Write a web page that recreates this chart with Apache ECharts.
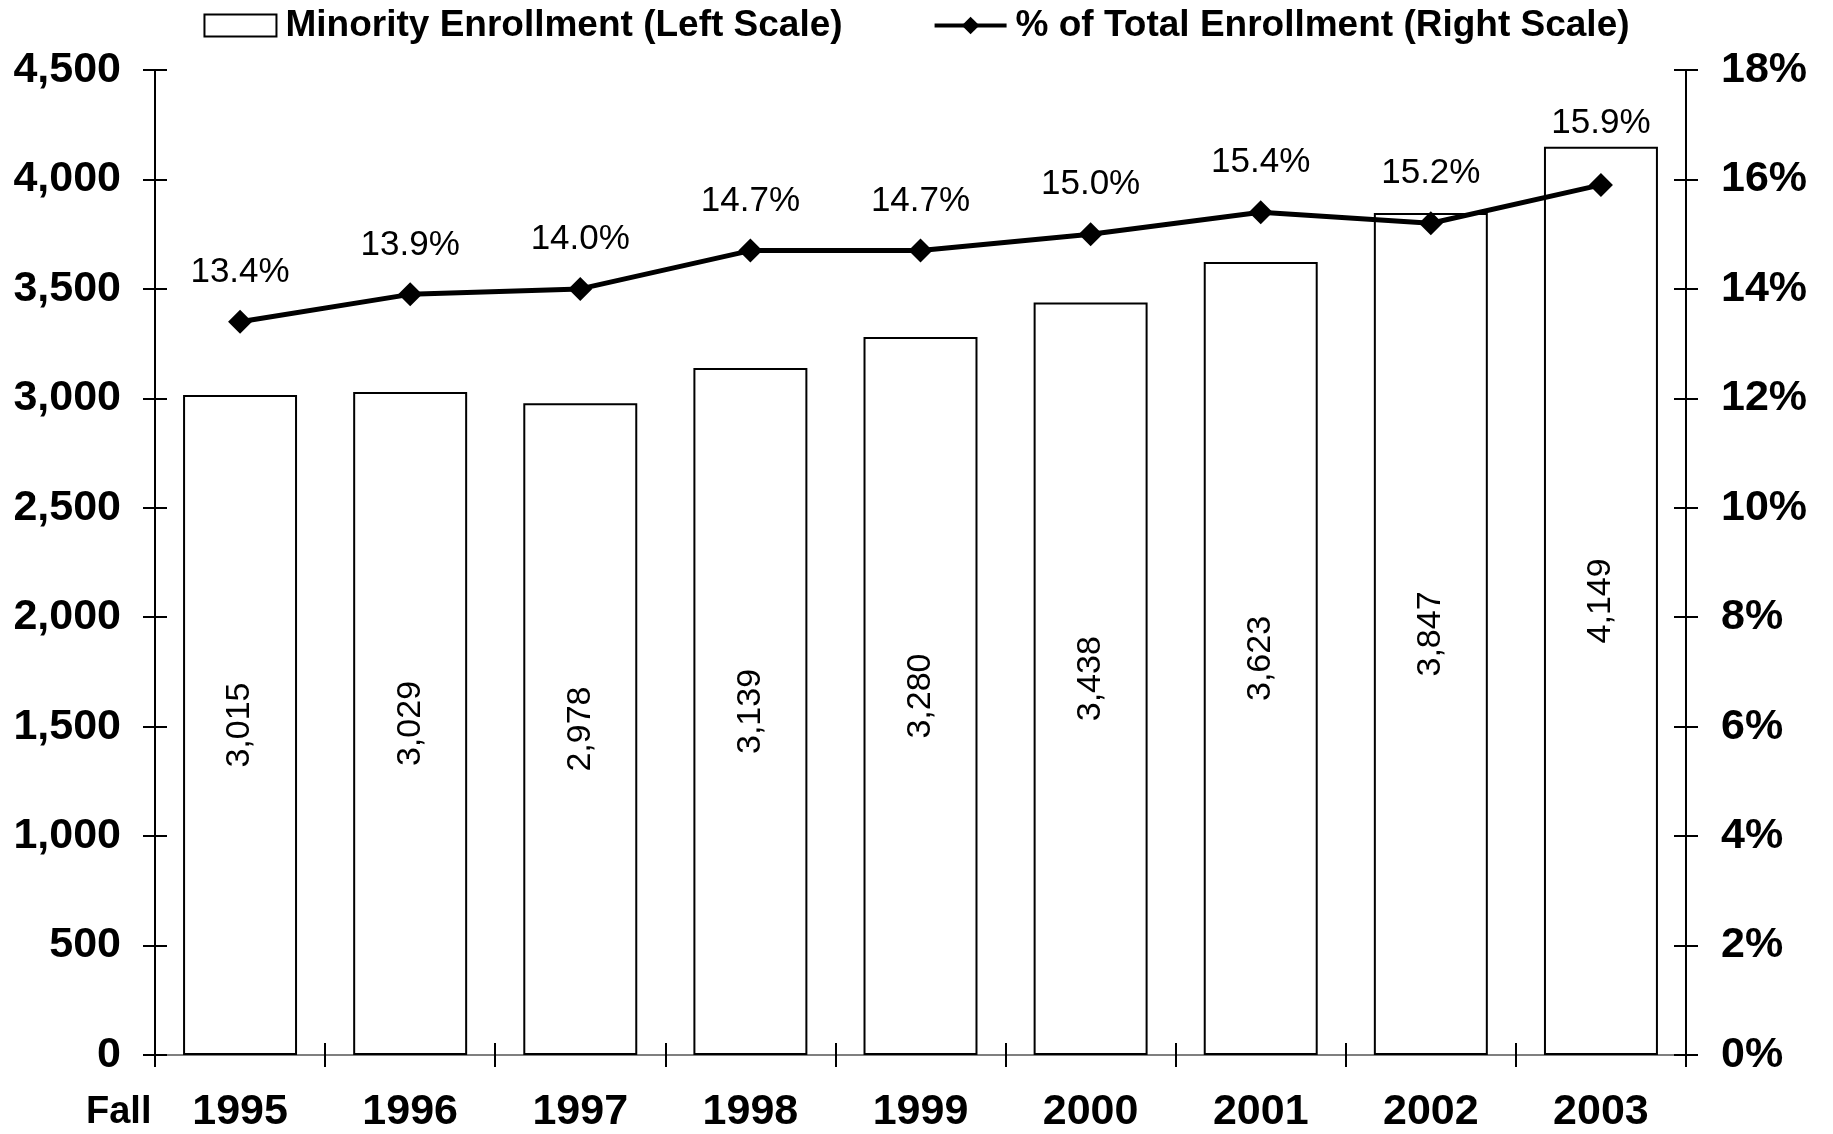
<!DOCTYPE html>
<html>
<head>
<meta charset="utf-8">
<script src="https://cdn.jsdelivr.net/npm/echarts@6/dist/echarts.min.js"></script>
<style>
  html, body { margin: 0; padding: 0; background: #fff; }
  #chart { width: 1833px; height: 1134px; }
</style>
</head>
<body>
<div id="chart"></div>
<script>
// data
var years = ['1995', '1996', '1997', '1998', '1999', '2000', '2001', '2002', '2003'];
var minorityEnrollment = [3015, 3029, 2978, 3139, 3280, 3438, 3623, 3847, 4149];
var pctOfTotal = [13.4, 13.9, 14.0, 14.7, 14.7, 15.0, 15.4, 15.2, 15.9];

var FONT = '"Liberation Sans", Arial, sans-serif';
var comma = function (v) { return Number(v).toLocaleString('en-US'); };

var chart = echarts.init(document.getElementById('chart'));

// shared axis bits
var leftScale = { min: 0, max: 4500, interval: 500 };
var rightScale = { min: 0, max: 18, interval: 2 };
var blackLine = { show: true, lineStyle: { color: '#000', width: 2 } };
var tickOut = { show: true, inside: false, length: 12, lineStyle: { color: '#000', width: 2 } };
var tickIn = { show: true, inside: true, length: 12, lineStyle: { color: '#000', width: 2 } };
var axisFont = { color: '#000', fontFamily: FONT, fontWeight: 'bold', fontSize: 43 };

// last label sits a bit higher so it clears the tall 2003 bar
var pctPoints = pctOfTotal.map(function (v, i) {
  return i === pctOfTotal.length - 1 ? { value: v, label: { distance: 32 } } : v;
});

chart.setOption({
  backgroundColor: '#fff',
  animation: false,
  grid: { left: 155, right: 147, top: 70, bottom: 77 },
  legend: {
    top: 2,
    left: 'center',
    itemWidth: 72,
    itemHeight: 22,
    itemGap: 90,
    textStyle: { color: '#000', fontFamily: FONT, fontWeight: 'bold', fontSize: 37, padding: [0, 0, 0, 4] },
    data: [
      { name: 'Minority Enrollment (Left Scale)', icon: 'rect' },
      { name: '% of Total Enrollment (Right Scale)', lineStyle: { width: 4, color: '#000' } }
    ]
  },
  xAxis: [
    {
      type: 'category', data: years, position: 'bottom',
      axisLine: blackLine, axisTick: tickOut,
      axisLabel: Object.assign({ margin: 36 }, axisFont)
    },
    {
      // second copy only for the inner half of the ticks
      type: 'category', data: years, position: 'bottom',
      axisLine: { show: false }, axisTick: tickIn, axisLabel: { show: false }
    },
    {
      // grey top border
      type: 'category', data: years, position: 'top',
      axisLine: { show: true, lineStyle: { color: '#7f7f7f', width: 2 } },
      axisTick: { show: false }, axisLabel: { show: false }
    }
  ],
  yAxis: [
    Object.assign({
      type: 'value', position: 'left',
      axisLine: blackLine, axisTick: tickOut, splitLine: { show: false },
      axisLabel: Object.assign({ margin: 34, formatter: comma }, axisFont)
    }, leftScale),
    Object.assign({
      type: 'value', position: 'right',
      axisLine: blackLine, axisTick: tickOut, splitLine: { show: false },
      axisLabel: Object.assign({ margin: 35, formatter: '{value}%' }, axisFont)
    }, rightScale),
    Object.assign({
      type: 'value', position: 'left',
      axisLine: { show: false }, axisTick: tickIn, splitLine: { show: false },
      axisLabel: { show: false }
    }, leftScale),
    Object.assign({
      type: 'value', position: 'right',
      axisLine: { show: false }, axisTick: tickIn, splitLine: { show: false },
      axisLabel: { show: false }
    }, rightScale)
  ],
  graphic: [
    {
      type: 'text', left: 86, top: 1094,
      style: { text: 'Fall', fill: '#000', font: 'bold 38px ' + FONT }
    }
  ],
  series: [
    {
      name: 'Minority Enrollment (Left Scale)',
      type: 'bar',
      xAxisIndex: 0, yAxisIndex: 0,
      data: minorityEnrollment,
      barCategoryGap: '33%',
      itemStyle: { color: '#fff', borderColor: '#000', borderWidth: 2 },
      label: {
        show: true, position: 'inside', rotate: 90,
        color: '#000', fontFamily: FONT, fontSize: 34,
        formatter: function (p) { return comma(p.value); }
      }
    },
    {
      name: '% of Total Enrollment (Right Scale)',
      type: 'line',
      xAxisIndex: 0, yAxisIndex: 1,
      data: pctPoints,
      symbol: 'diamond', symbolSize: 24,
      lineStyle: { color: '#000', width: 5 },
      itemStyle: { color: '#000' },
      label: {
        show: true, position: 'top', distance: 20,
        color: '#000', fontFamily: FONT, fontSize: 35,
        formatter: function (p) { return p.value.toFixed(1) + '%'; }
      }
    }
  ]
});
</script>
</body>
</html>
